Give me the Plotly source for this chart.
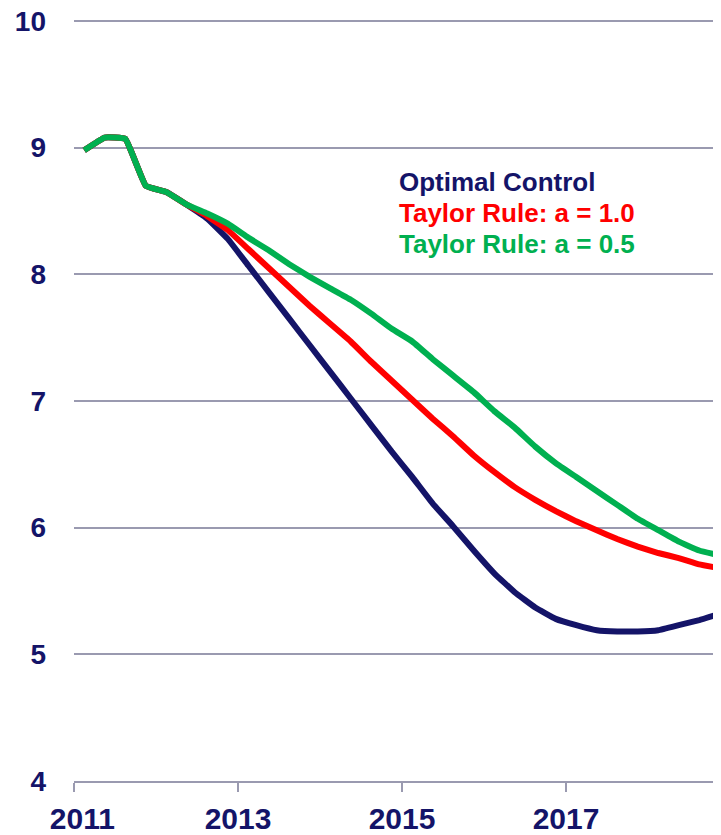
import plotly.graph_objects as go

# Quarterly data 2011Q1 - 2018Q4
start_year = 2011
quarters = list(range(32))
x_vals = [start_year + 0.125 + 0.25 * q for q in quarters]

optimal_control = [8.98, 9.08, 9.07, 8.70, 8.65, 8.55, 8.44, 8.28,
                   8.07, 7.86, 7.65, 7.44, 7.23, 7.02, 6.81, 6.60,
                   6.40, 6.19, 6.01, 5.82, 5.64, 5.49, 5.37, 5.28,
                   5.23, 5.19, 5.18, 5.18, 5.19, 5.23, 5.27, 5.32]
taylor_1_0 = [8.98, 9.08, 9.07, 8.70, 8.65, 8.55, 8.46, 8.35,
              8.20, 8.05, 7.90, 7.75, 7.61, 7.47, 7.31, 7.16,
              7.01, 6.86, 6.72, 6.57, 6.44, 6.32, 6.22, 6.13,
              6.05, 5.98, 5.91, 5.85, 5.80, 5.76, 5.71, 5.68]
taylor_0_5 = [8.98, 9.08, 9.07, 8.70, 8.65, 8.55, 8.48, 8.40,
              8.29, 8.19, 8.08, 7.98, 7.89, 7.80, 7.69, 7.57,
              7.47, 7.33, 7.20, 7.07, 6.92, 6.79, 6.64, 6.51,
              6.40, 6.29, 6.18, 6.07, 5.98, 5.89, 5.82, 5.78]

series_names = ["Optimal Control", "Taylor Rule: a = 1.0", "Taylor Rule: a = 0.5"]
series_colors = ["#141468", "#FF0000", "#00B050"]
tick_years = [2011, 2013, 2015, 2017]
tick_labels = ["\u00a0\u00a02011", "2013", "2015", "2017"]
y_ticks = [4, 5, 6, 7, 8, 9, 10]

NAVY = "#141468"
FONT = "Liberation Sans, Arial, sans-serif"

fig = go.Figure()
for name, vals, col in zip(series_names, [optimal_control, taylor_1_0, taylor_0_5], series_colors):
    fig.add_trace(go.Scatter(x=x_vals, y=vals, mode="lines", name=name,
                             line=dict(color=col, width=6, shape="spline", smoothing=0.3)))

# legend text as annotations (plot area: 639 x 761 px)
for k, (name, col) in enumerate(zip(series_names, series_colors)):
    fig.add_annotation(x=(397 - 74) / 639, y=1 - (182 - 20 + k * 31) / 761,
                       xref="paper", yref="paper",
                       text="<b>%s</b>" % name, showarrow=False,
                       xanchor="left", yanchor="middle",
                       font=dict(family=FONT, size=26, color=col))

fig.update_layout(
    width=705, height=827,
    margin=dict(l=66, r=0, t=12, b=54),
    paper_bgcolor="white", plot_bgcolor="white",
    showlegend=False,
    font=dict(family=FONT, color=NAVY),
)
fig.update_xaxes(
    range=[2011, 2011 + 639 / 82], tickvals=tick_years,
    ticktext=["<b>%s</b>" % t for t in tick_labels],
    tickfont=dict(family=FONT, size=30, color=NAVY),
    showgrid=False, zeroline=False, automargin=False,
    showline=True, linecolor="#9a9ab0", linewidth=2,
    ticks="outside", ticklen=9, tickwidth=2, tickcolor="#9a9ab0",
    ticklabelstandoff=1, ticklabeloverflow="allow",
)
fig.update_yaxes(
    range=[4, 10.008], tickvals=y_ticks,
    ticktext=["<b>%d</b>" % t for t in y_ticks],
    tickfont=dict(family=FONT, size=28, color=NAVY),
    showgrid=True, gridcolor="#9a9ab0", gridwidth=2, zeroline=False, automargin=False,
    showline=False, ticks="", ticklabelstandoff=27, ticklabeloverflow="allow",
)

fig.write_html("out.html")
